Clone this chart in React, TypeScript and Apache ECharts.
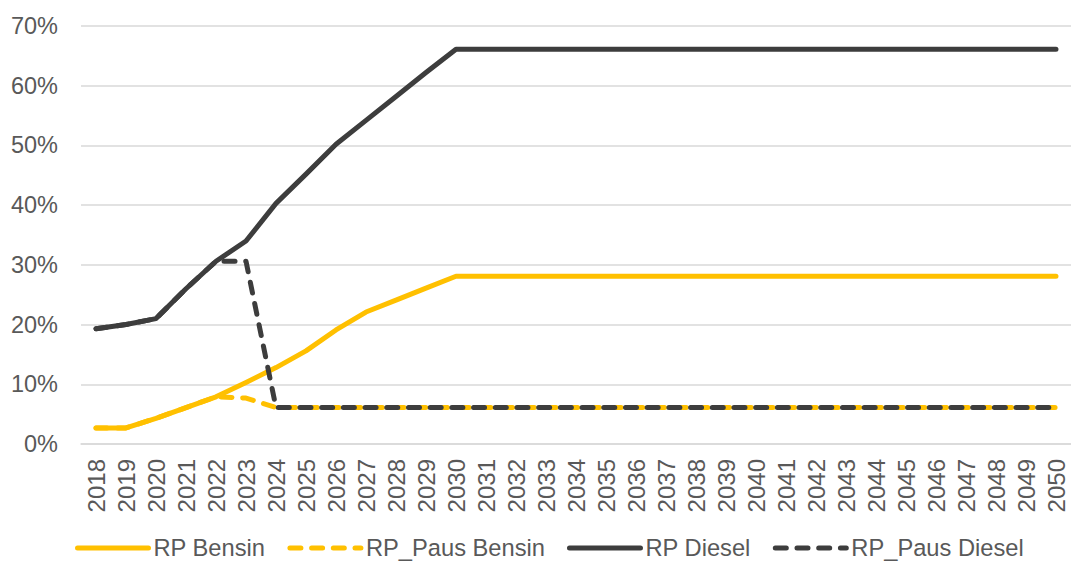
import React, { useEffect, useRef } from "react";
import * as echarts from "echarts";

// Years on the category axis
const years: string[] = [];
for (let y = 2018; y <= 2050; y++) years.push(String(y));

// Shares in percent, 2018–2030; values stay flat after 2030
const rpBensinHead = [2.7, 2.7, 4.3, 6.1, 7.9, 10.3, 12.8, 15.6, 19.1, 22.1, 24.1, 26.1, 28.1];
const rpPausBensinHead = [2.7, 2.7, 4.3, 6.1, 7.9, 7.7, 6.1, 6.1, 6.1, 6.1, 6.1, 6.1, 6.1];
const rpDieselHead = [19.3, 20.0, 21.0, 26.0, 30.6, 34.0, 40.3, 45.2, 50.2, 54.2, 58.2, 62.2, 66.1];
const rpPausDieselHead = [19.3, 20.0, 21.0, 26.0, 30.6, 30.6, 6.1, 6.1, 6.1, 6.1, 6.1, 6.1, 6.1];

const extend = (head: number[]) => {
  const out = head.slice();
  while (out.length < years.length) out.push(head[head.length - 1]);
  return out;
};

const rpBensin = extend(rpBensinHead);
const rpPausBensin = extend(rpPausBensinHead);
const rpDiesel = extend(rpDieselHead);
const rpPausDiesel = extend(rpPausDieselHead);

const YELLOW = "#FFC000";
const DARK = "#3D3D3D";
const TEXT = "#595959";
const GRID = "#D9D9D9";
const FONT = "'Liberation Sans', Arial, sans-serif";
const DASH = [11, 10.7];
const LINE_W = 5;

export default function App() {
  const ref = useRef<HTMLDivElement>(null);

  useEffect(() => {
    if (!ref.current) return;
    const chart = echarts.init(ref.current, undefined, { renderer: "svg" });
    const line = (name: string, data: number[], color: string, dashed: boolean) => ({
      name,
      type: "line",
      data,
      symbol: "none",
      showSymbol: false,
      color,
      lineStyle: {
        color,
        width: LINE_W,
        type: dashed ? DASH : "solid",
        cap: "round",
        join: "round",
      },
      emphasis: { disabled: true },
    });
    chart.setOption({
      animation: false,
      textStyle: { fontFamily: FONT },
      grid: { left: 81, top: 26, width: 991, height: 418, containLabel: false },
      xAxis: {
        type: "category",
        data: years,
        boundaryGap: true,
        axisLine: { show: true, lineStyle: { color: GRID, width: 1.5 } },
        axisTick: { show: false },
        axisLabel: {
          interval: 0,
          rotate: 90,
          margin: 15,
          color: TEXT,
          fontSize: 24,
          fontFamily: FONT,
        },
      },
      yAxis: {
        type: "value",
        min: 0,
        max: 70,
        interval: 10,
        axisLine: { show: false },
        axisTick: { show: false },
        axisLabel: {
          formatter: "{value}%",
          margin: 23,
          color: TEXT,
          fontSize: 23.5,
          fontFamily: FONT,
        },
        splitLine: { lineStyle: { color: GRID, width: 1.5 } },
      },
      legend: {
        left: 75,
        top: 536,
        padding: 0,
        itemWidth: 71,
        itemHeight: 14,
        itemGap: 22,
        itemStyle: { opacity: 0 },
        lineStyle: { width: LINE_W, cap: "round" },
        textStyle: { color: TEXT, fontSize: 23.7, fontFamily: FONT },
        data: ["RP Bensin", "RP_Paus Bensin", "RP Diesel", "RP_Paus Diesel"],
      },
      series: [
        line("RP Bensin", rpBensin, YELLOW, false),
        line("RP_Paus Bensin", rpPausBensin, YELLOW, true),
        line("RP Diesel", rpDiesel, DARK, false),
        line("RP_Paus Diesel", rpPausDiesel, DARK, true),
      ],
    });
    return () => chart.dispose();
  }, []);

  return (
    <div
      ref={ref}
      style={{ position: "fixed", left: 0, top: 0, width: 1071, height: 563, background: "#fff" }}
    />
  );
}
